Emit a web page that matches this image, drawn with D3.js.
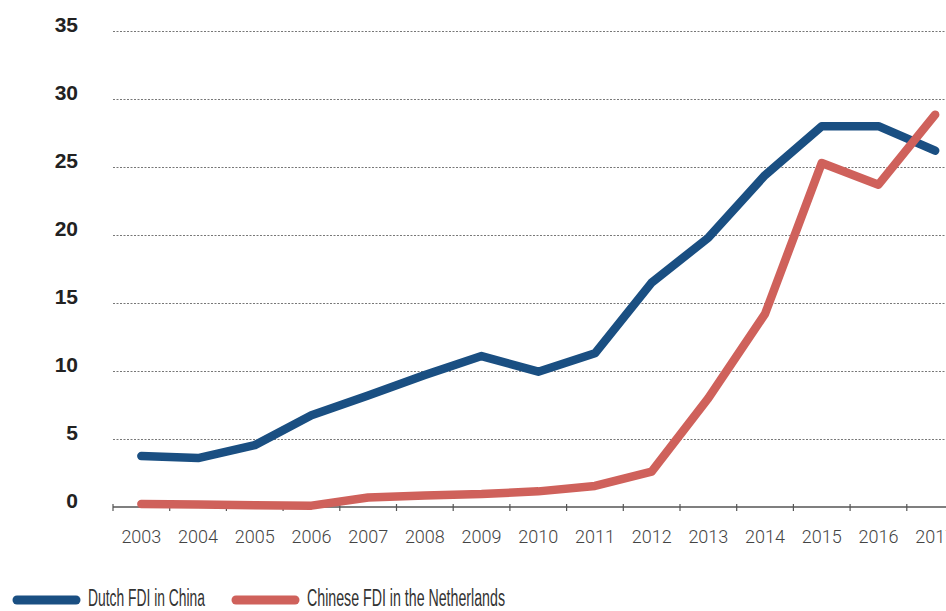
<!DOCTYPE html>
<html>
<head>
<meta charset="utf-8">
<script src="https://cdn.jsdelivr.net/npm/d3@7"></script>
<style>
  body { margin: 0; background: #fff; }
  svg { display: block; }
</style>
</head>
<body>
<svg id="chart" width="946" height="611"></svg>
<script>
// values
const years = ["2003","2004","2005","2006","2007","2008","2009","2010","2011","2012","2013","2014","2015","2016","2017"];
const dutchFDI = [3.75, 3.6, 4.55, 6.75, 8.2, 9.7, 11.1, 9.95, 11.3, 16.5, 19.8, 24.4, 28.0, 28.0, 26.2];
const chineseFDI = [0.22, 0.18, 0.13, 0.1, 0.7, 0.85, 0.95, 1.15, 1.55, 2.6, 8.0, 14.2, 25.3, 23.7, 28.85];
const yTicks = [0, 5, 10, 15, 20, 25, 30, 35];
const seriesNames = ["Dutch FDI in China", "Chinese FDI in the Netherlands"];
const seriesColors = ["#1a4f82", "#cf615b"];

const svg = d3.select("#chart");
const plotLeft = 113, plotBottom = 507, plotTop = 31;
const bandW = 56.7;

let x = d3.scaleBand()
    .domain(years)
    .range([plotLeft, plotLeft + bandW * years.length]);

let y = d3.scaleLinear()
    .domain([0, 35])
    .range([plotBottom, plotTop]);

// grid lines
svg.append("g")
    .selectAll("line")
    .data(yTicks.filter(d => d > 0))
    .join("line")
    .attr("x1", plotLeft)
    .attr("x2", 946)
    .attr("y1", d => y(d) + 0.5)
    .attr("y2", d => y(d) + 0.5)
    .attr("stroke", "#777")
    .attr("stroke-width", 1)
    .attr("stroke-dasharray", "2,1.5");

// y labels
svg.append("g")
    .selectAll("text")
    .data(yTicks)
    .join("text")
    .attr("x", 78)
    .attr("y", d => y(d) - 7)
    .attr("text-anchor", "end")
    .attr("dominant-baseline", "central")
    .attr("font-family", "Liberation Sans, Arial, sans-serif")
    .attr("font-weight", "bold")
    .attr("font-size", 21)
    .attr("fill", "#222")
    .text(d => d);

// x axis
let xAxis = svg.append("g")
    .attr("transform", `translate(0,${plotBottom})`);
xAxis.append("line")
    .attr("x1", plotLeft)
    .attr("x2", 946)
    .attr("stroke", "#555")
    .attr("stroke-width", 1.5);
xAxis.selectAll(".tick")
    .data(years)
    .join("line")
    .attr("class", "tick")
    .attr("x1", d => x(d))
    .attr("x2", d => x(d))
    .attr("y1", -3)
    .attr("y2", 4)
    .attr("stroke", "#555")
    .attr("stroke-width", 1.2);
xAxis.selectAll("text")
    .data(years)
    .join("text")
    .attr("x", d => x(d) + x.bandwidth() / 2)
    .attr("y", 36)
    .attr("text-anchor", "middle")
    .attr("font-family", "Roboto, sans-serif")
    .attr("font-weight", 300)
    .attr("font-size", 18)
    .attr("fill", "#444")
    .text(d => d);

// lines
let line = d3.line()
    .x((d, i) => x(years[i]) + x.bandwidth() / 2)
    .y(d => y(d));

[dutchFDI, chineseFDI].forEach((series, i) => {
    svg.append("path")
        .datum(series)
        .attr("d", line)
        .attr("fill", "none")
        .attr("stroke", seriesColors[i])
        .attr("stroke-width", 8.5)
        .attr("stroke-linecap", "round")
        .attr("stroke-linejoin", "round");
});

// legend
const legendX = [17, 236];
const legendTextW = [117, 198];
seriesNames.forEach((name, i) => {
    let g = svg.append("g").attr("transform", `translate(${legendX[i]},600)`);
    g.append("line")
        .attr("x1", 0)
        .attr("x2", 59)
        .attr("stroke", seriesColors[i])
        .attr("stroke-width", 9)
        .attr("stroke-linecap", "round");
    g.append("text")
        .attr("x", 71)
        .attr("y", 6)
        .attr("font-family", "Liberation Sans, Arial, sans-serif")
        .attr("font-size", 23)
        .attr("textLength", legendTextW[i])
        .attr("lengthAdjust", "spacingAndGlyphs")
        .attr("fill", "#333")
        .text(name);
});
</script>
</body>
</html>
